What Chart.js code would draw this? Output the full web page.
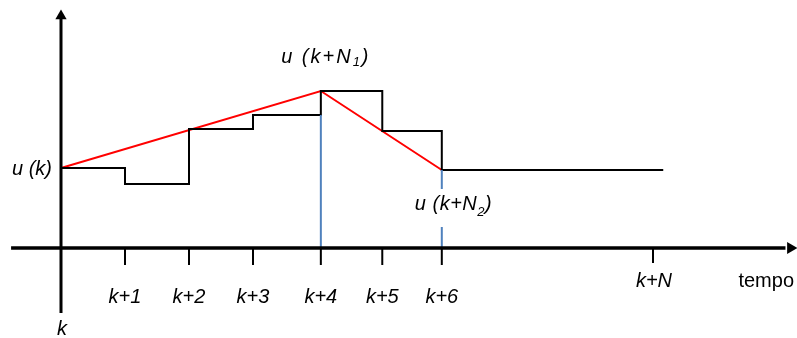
<!DOCTYPE html>
<html>
<head>
<meta charset="utf-8">
<script src="https://cdn.jsdelivr.net/npm/chart.js@4/dist/chart.umd.min.js"></script>
<style>
  html, body { margin: 0; padding: 0; background: #ffffff; }
  #box { width: 797px; height: 338px; position: relative; }
</style>
</head>
<body>
<div id="box"><canvas id="grafico"></canvas></div>
<script>
// Istanti di campionamento (posizione sull'asse dei tempi, in passi)
const tempi = [0, 1, 2, 3, 4.06, 5.02, 5.95];
const etichetteTempi = ['k', 'k+1', 'k+2', 'k+3', 'k+4', 'k+5', 'k+6'];
const tempoN = 9.25;          // istante k+N
const fineControllo = 9.41;   // fine del tratto costante dopo k+6
// Segnale di controllo u (valori a gradini, uno per istante)
const controllo = [80, 64, 119, 133, 157, 117, 78];
// Indici dei punti notevoli: u(k+N1), u(k+N2)
const iN1 = 4;
const iN2 = 6;

const NERO = '#000000';
const ROSSO = '#ff0000';
const BLU = '#4f81bd';

// gradini
const gradini = tempi.map((t, i) => ({ x: t, y: controllo[i] }));
gradini.push({ x: fineControllo, y: controllo[controllo.length - 1] });

// spezzata di riferimento u(k) -> u(k+N1) -> u(k+N2)
const riferimento = [0, iN1, iN2].map(i => ({ x: tempi[i], y: controllo[i] }));

// tacche sull'asse dei tempi
const tacche = [];
tempi.slice(1).forEach(t => { tacche.push({ x: t, y: 0 }, { x: t, y: -17 }, { x: t, y: null }); });
tacche.push({ x: tempoN, y: 0 }, { x: tempoN, y: -15 });

const xMin = -61 / 64;
const xMax = xMin + 797 / 64;

const base = { pointRadius: 0, fill: false, clip: false, spanGaps: false };

// testi del grafico, ancorati a punti in coordinate dei dati
const testi = [
  { parti: [['u (k)']], x: tempi[0], y: controllo[0], dx: -9, dy: 7, align: 'right' },
  { parti: [['u (k+N'], ['1', 'sub'], [')']], x: tempi[iN1], y: controllo[iN1], dx: 5, dy: -28, align: 'center', spazio: 2 },
  { parti: [['u (k+N'], ['2', 'sub2'], [')']], x: tempi[iN2], y: controllo[iN2], dx: -27, dy: 40, align: 'left', spazio: 0.5 },
  { parti: [[etichetteTempi[0]]], x: tempi[0], y: 0, dx: 1, dy: 87, align: 'center' },
  ...tempi.slice(1).map((t, i) => ({ parti: [[etichetteTempi[i + 1]]], x: t, y: 0, dx: 0, dy: 55, align: 'center' })),
  { parti: [['k+N']], x: tempoN, y: 0, dx: 1, dy: 39, align: 'center' },
  { parti: [['tempo', 'dritto']], x: xMax, y: 0, dx: -3, dy: 39, align: 'right' }
];

const FAMIGLIA = '"Liberation Sans", Arial, sans-serif';
function fontPer(tipo) {
  if (tipo === 'dritto') return '20px ' + FAMIGLIA;
  if (tipo === 'sub' || tipo === 'sub2') return 'italic 13px ' + FAMIGLIA;
  return 'italic 20px ' + FAMIGLIA;
}

const pluginTesti = {
  id: 'testi',
  afterDatasetsDraw(chart) {
    const ctx = chart.ctx;
    const sx = chart.scales.x, sy = chart.scales.y;
    ctx.save();
    ctx.fillStyle = NERO;
    ctx.textBaseline = 'alphabetic';
    ctx.textAlign = 'left';
    testi.forEach(t => {
      if ('letterSpacing' in ctx) ctx.letterSpacing = (t.spazio || 0) + 'px';
      let larghezza = 0;
      t.parti.forEach(p => { ctx.font = fontPer(p[1]); larghezza += ctx.measureText(p[0]).width; });
      let px = sx.getPixelForValue(t.x) + t.dx;
      const py = sy.getPixelForValue(t.y) + t.dy;
      if (t.align === 'center') px -= larghezza / 2;
      else if (t.align === 'right') px -= larghezza;
      t.parti.forEach(p => {
        ctx.font = fontPer(p[1]);
        const off = p[1] === 'sub' ? 3 : (p[1] === 'sub2' ? 6 : 0);
        ctx.fillText(p[0], px, py + off);
        px += ctx.measureText(p[0]).width;
      });
    });
    ctx.restore();
  }
};

new Chart(document.getElementById('grafico'), {
  type: 'line',
  data: {
    datasets: [
      // asse dei tempi
      { ...base, data: [{ x: -0.78, y: 0 }, { x: 11.32, y: 0 }], borderColor: NERO, borderWidth: 3.5 },
      // asse verticale
      { ...base, data: [{ x: 0, y: -65 }, { x: 0, y: 230 }], borderColor: NERO, borderWidth: 3 },
      // tacche
      { ...base, data: tacche, borderColor: NERO, borderWidth: 2 },
      // linea blu in k+N1
      { ...base, data: [{ x: tempi[iN1], y: 0 }, { x: tempi[iN1], y: controllo[iN1 - 1] }], borderColor: BLU, borderWidth: 2 },
      // linea blu in k+N2, interrotta dall'etichetta
      { ...base, data: [{ x: tempi[iN2], y: controllo[iN2] }, { x: tempi[iN2], y: 59 }, { x: tempi[iN2], y: null }, { x: tempi[iN2], y: 21 }, { x: tempi[iN2], y: 0 }], borderColor: BLU, borderWidth: 2 },
      // segnale di controllo a gradini
      { ...base, data: gradini, borderColor: NERO, borderWidth: 2, stepped: true },
      // riferimento
      { ...base, data: riferimento, borderColor: ROSSO, borderWidth: 2 },
      // frecce degli assi
      { ...base, showLine: false, data: [{ x: 11.40, y: 0 }], pointStyle: 'triangle', pointRadius: 7, rotation: 90, pointBackgroundColor: NERO, pointBorderWidth: 0 },
      { ...base, showLine: false, data: [{ x: 0, y: 232 }], pointStyle: 'triangle', pointRadius: 6.5, rotation: 0, pointBackgroundColor: NERO, pointBorderWidth: 0 }
    ]
  },
  options: {
    responsive: true,
    maintainAspectRatio: false,
    animation: false,
    events: [],
    layout: { padding: 0, autoPadding: false },
    plugins: { legend: { display: false }, tooltip: { enabled: false } },
    scales: {
      x: { type: 'linear', min: xMin, max: xMax, display: false },
      y: { type: 'linear', min: -90, max: 248, display: false }
    }
  },
  plugins: [pluginTesti]
});
</script>
</body>
</html>
